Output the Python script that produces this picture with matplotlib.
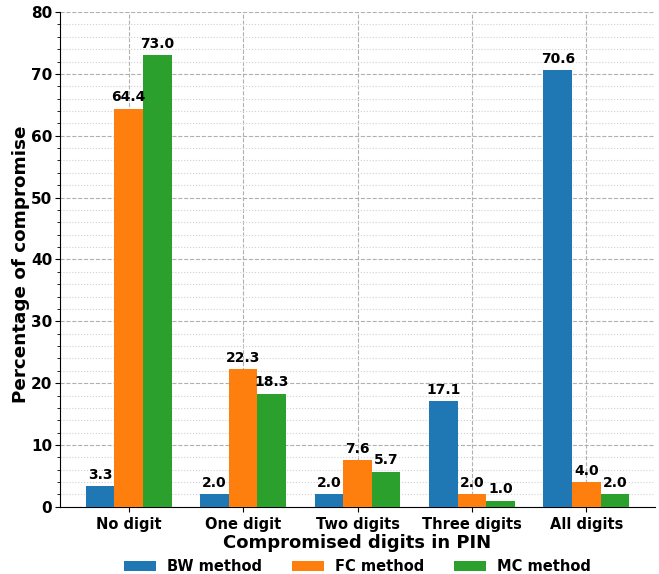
import matplotlib
matplotlib.use("Agg")
import matplotlib.pyplot as plt
import numpy as np
from matplotlib.ticker import MultipleLocator

categories = ["No digit", "One digit", "Two digits", "Three digits", "All digits"]
bw = [3.3, 2.0, 2.0, 17.1, 70.6]
fc = [64.4, 22.3, 7.6, 2.0, 4.0]
mc = [73.0, 18.3, 5.7, 1.0, 2.0]
series = [("BW method", bw, "#1f77b4"), ("FC method", fc, "#ff7f0e"), ("MC method", mc, "#2ca02c")]

fig = plt.figure(figsize=(6.59, 5.74), dpi=100)
ax = fig.add_axes([0.091, 0.117, 0.903, 0.862])
x = np.arange(len(categories))
w = 0.25
for i, (name, vals, col) in enumerate(series):
    bars = ax.bar(x + (i - 1) * w, vals, w, label=name, color=col, zorder=3)
    ax.bar_label(bars, labels=[f"{v:.1f}" for v in vals], padding=3,
                 fontsize=10, fontweight="bold", zorder=4)

ax.set_xlim(-0.6, 4.6)
ax.set_ylim(0, 80)
ax.set_xticks(x)
ax.set_xticklabels(categories, fontsize=10.5, fontweight="bold")
ax.yaxis.set_major_locator(MultipleLocator(10))
ax.yaxis.set_minor_locator(MultipleLocator(2))
for lab in ax.get_yticklabels():
    lab.set_fontweight("bold")
    lab.set_fontsize(11)
ax.tick_params(axis="y", which="major", pad=2)
ax.grid(which="major", linestyle="--", color="#b0b0b0", linewidth=0.8, zorder=0)
ax.grid(which="minor", axis="y", linestyle=":", color="#d0d0d0", linewidth=0.8, zorder=0)
ax.spines["top"].set_visible(False)
ax.spines["right"].set_visible(False)
ax.set_xlabel("Compromised digits in PIN", fontsize=13, fontweight="bold", labelpad=2)
ax.set_ylabel("Percentage of compromise", fontsize=13.2, fontweight="bold", labelpad=0.5)
ax.yaxis.label.set_y(0.49)
leg = ax.legend(loc="upper center", bbox_to_anchor=(0.5, -0.1), ncol=3, frameon=False,
                prop={"weight": "bold", "size": 10.5}, columnspacing=2.0, handlelength=2.2,
                borderaxespad=0, borderpad=0.2)
fig.savefig("out.png", dpi=100)
